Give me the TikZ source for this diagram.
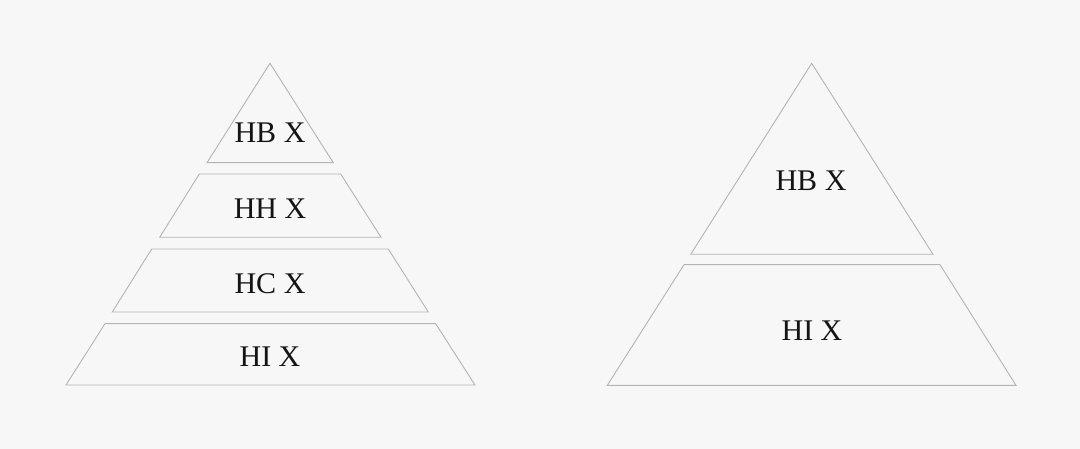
\documentclass[tikz,border=0pt]{standalone}
\usepackage{fontspec}
\setmainfont{Liberation Serif}
\definecolor{bgc}{HTML}{F6F7F6}
\definecolor{edge}{HTML}{B4B4B4}
\definecolor{txt}{HTML}{141414}
\begin{document}
\begin{tikzpicture}[x=1pt,y=-1pt,
  tier/.style={draw=edge,line width=0.9pt,line join=miter},
  lbl/.style={anchor=base,inner sep=0pt,text=txt,font=\fontsize{30}{36}\selectfont}]
\fill[bgc] (0,0) rectangle (1080,449);
\useasboundingbox (0,0) rectangle (1080,449);
% left pyramid
\draw[tier] (270,63.3) -- (333.3,162.7) -- (207,162.7) -- cycle;
\draw[tier] (199.3,174) -- (340.7,174) -- (381,237.3) -- (159.7,237.3) -- cycle;
\draw[tier] (151.7,249) -- (388.3,249) -- (428.3,312) -- (112.3,312) -- cycle;
\draw[tier] (105,323.7) -- (435.7,323.7) -- (475,385) -- (66,385) -- cycle;
\node[lbl] (l1) at (270,142.3) {HB X};
\node[lbl] (l2) at (270,219) {HH X};
\node[lbl] (l3) at (270,294) {HC X};
\node[lbl] (l4) at (270,366.7) {HI X};
% right pyramid
\draw[tier] (811.7,63.3) -- (933,254.3) -- (690.7,254.3) -- cycle;
\draw[tier] (684,264.7) -- (940,264.7) -- (1016,385.3) -- (607.3,385.3) -- cycle;
\node[lbl] (r1) at (811,191) {HB X};
\node[lbl] (r2) at (812,341) {HI X};
\end{tikzpicture}
\end{document}
